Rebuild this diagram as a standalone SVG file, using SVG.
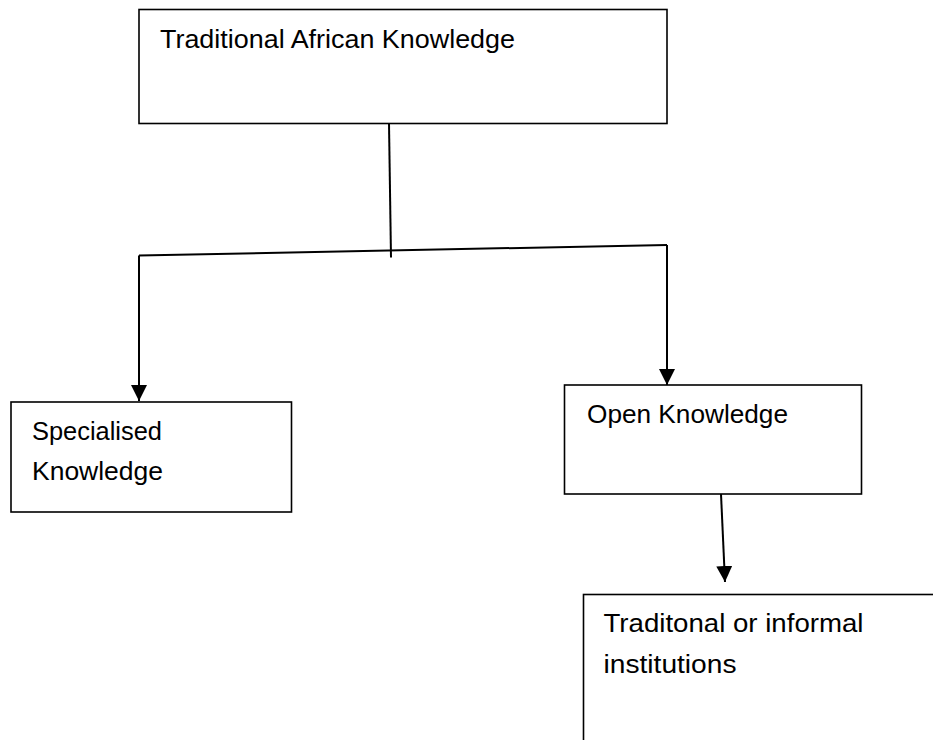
<svg xmlns="http://www.w3.org/2000/svg" width="933" height="740" viewBox="0 0 933 740">
<style>
  .box { fill: #ffffff; stroke: #000000; stroke-width: 1.6; }
  .lbl { font-family: "Liberation Sans", Arial, sans-serif; font-size: 26px; fill: #000000; }
  .conn { fill: none; stroke: #000000; stroke-width: 2; }
</style>
<defs>
  <marker id="arrow" markerWidth="16" markerHeight="16" refX="16" refY="8" orient="auto" markerUnits="userSpaceOnUse">
    <path d="M0,0 L16,8 L0,16 Z" fill="#000000"/>
  </marker>
</defs>
<rect width="933" height="740" fill="#ffffff"/>
<g id="node-traditional-african-knowledge">
  <rect class="box" x="139" y="9.5" width="528" height="114"/>
  <text class="lbl" x="160" y="48" textLength="355" lengthAdjust="spacingAndGlyphs">Traditional African Knowledge</text>
</g>
<g id="node-specialised-knowledge">
  <rect class="box" x="11" y="402" width="280.5" height="110"/>
  <text class="lbl" x="32" y="440" textLength="130" lengthAdjust="spacingAndGlyphs">Specialised</text>
  <text class="lbl" x="32" y="480" textLength="131" lengthAdjust="spacingAndGlyphs">Knowledge</text>
</g>
<g id="node-open-knowledge">
  <rect class="box" x="564.5" y="385" width="297" height="109"/>
  <text class="lbl" x="587" y="423" textLength="201" lengthAdjust="spacingAndGlyphs">Open Knowledge</text>
</g>
<g id="node-traditional-institutions">
  <rect class="box" x="583.5" y="594.5" width="400" height="200"/>
  <text class="lbl" x="603.5" y="631.5" textLength="260" lengthAdjust="spacingAndGlyphs">Traditonal or informal</text>
  <text class="lbl" x="603.5" y="672.5" textLength="133" lengthAdjust="spacingAndGlyphs">institutions</text>
</g>
<g id="connectors">
  <path class="conn" d="M389,123.5 L391,257.5"/>
  <path class="conn" d="M139,255.5 L667,245"/>
  <path class="conn" d="M139,255.5 L139,401" marker-end="url(#arrow)"/>
  <path class="conn" d="M667,245 L667,385" marker-end="url(#arrow)"/>
  <path class="conn" d="M721,494 L725,582" marker-end="url(#arrow)"/>
</g>
</svg>
